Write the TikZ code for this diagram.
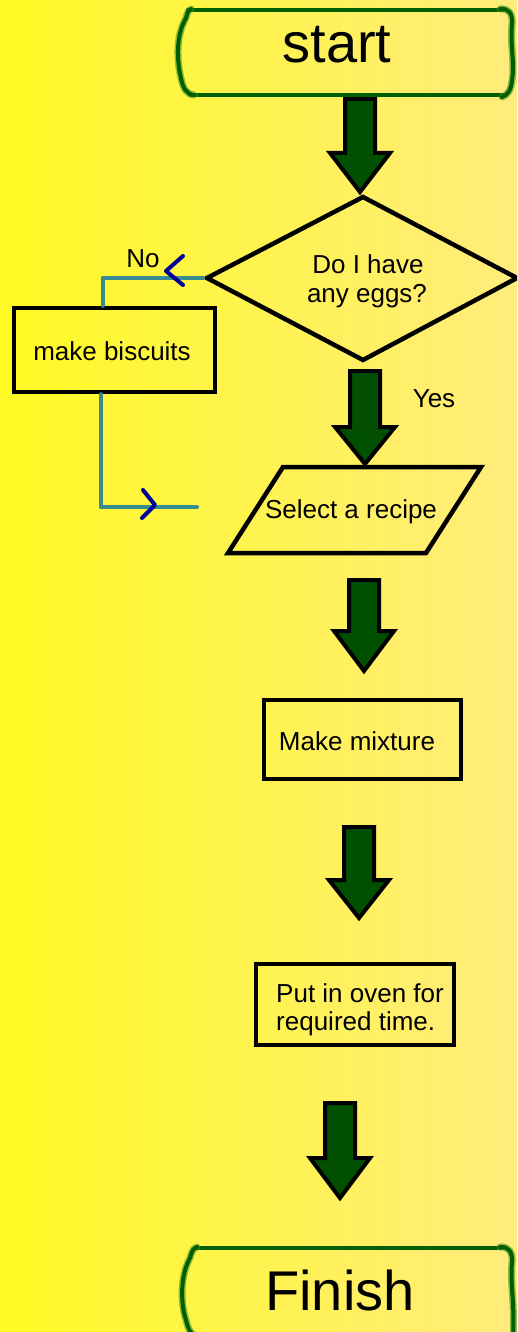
\documentclass[tikz,border=0pt]{standalone}
\usepackage{fontspec}
\setmainfont{Liberation Sans}
\definecolor{bgleft}{RGB}{255,250,35}
\definecolor{bgright}{RGB}{255,236,125}
\definecolor{arrowgreen}{RGB}{0,80,0}
\definecolor{framegreen}{RGB}{0,95,0}
\definecolor{halogreen}{RGB}{80,150,40}
\definecolor{linkteal}{RGB}{55,140,145}
\definecolor{chevblue}{RGB}{0,0,150}
% block arrow: centre x, shaft top, head base, tip
\newcommand\blockarrowat[4]{%
  \draw[blockarrow] (#1-15,#2) -- (#1+15,#2) -- (#1+15,#3) -- (#1+30,#3)
    -- (#1,#4) -- (#1-30,#3) -- (#1-15,#3) -- cycle;}
% hand-drawn green terminal side: halo underneath, dark stroke on top
\newcommand\greenside[1]{\draw[framehalo] #1; \draw[frameline] #1;}
\begin{document}
\begin{tikzpicture}[x=1pt,y=-1pt,
  txt/.style={font=\fontsize{26}{28}\selectfont, inner sep=0pt},
  bigtxt/.style={font=\fontsize{56}{60}\selectfont, inner sep=0pt},
  procbox/.style={draw=black, line width=4.5pt, rectangle, inner sep=0pt},
  outline/.style={draw=black, line width=4.5pt, line join=miter},
  blockarrow/.style={fill=arrowgreen, draw=black, line width=4pt, line join=miter},
  link/.style={draw=linkteal, line width=4pt, line cap=round, line join=round},
  chevron/.style={draw=chevblue, line width=4pt, line cap=round, line join=round},
  framehalo/.style={draw=halogreen, line width=7pt, opacity=0.6, line cap=round},
  frameline/.style={draw=framegreen, line width=4pt, line cap=round}]

\useasboundingbox (0,0) rectangle (517,1332);
\clip (0,0) rectangle (517,1332);
\shade[left color=bgleft, right color=bgright] (0,0) rectangle (517,1332);

% block arrows down the main flow
\blockarrowat{360}{99}{153}{192}
\blockarrowat{365}{371}{427}{464}
\blockarrowat{364}{580}{631}{671}
\blockarrowat{359}{827}{880}{918}
\blockarrowat{340}{1103}{1158}{1198}

% start terminal
\node[bigtxt, anchor=base] (start) at (337,63) {start};
\draw[frameline] (188,10) -- (503,10);
\draw[frameline] (190,95) -- (503,95);
\greenside{(191,9) .. controls (186,11) and (188,16) .. (184,22) .. controls (176,38) and (177,62) .. (181,78) .. controls (183,88) and (186,94) .. (194,95)}
\greenside{(500,9) .. controls (508,8) and (513,13) .. (512,24) .. controls (510,45) and (515,65) .. (512,80) .. controls (511,90) and (508,95) .. (502,97)}

% decision
\draw[outline] (207,278) coordinate (qW) -- (363,197) -- (517,278) -- (363,360) -- cycle;
\node[txt, anchor=base] (q) at (368,273) {Do I have};
\node[txt, anchor=base] (q2) at (367,302) {any eggs?};
\node[txt, anchor=base] (yes) at (434,407) {Yes};
\node[txt, anchor=base] (no) at (143,267) {No};

% side branch
\node[procbox, minimum width=201, minimum height=84] (mb) at (114.5,350) {};
\node[txt, anchor=base] (mbtext) at (112,360) {make biscuits};
\coordinate (noStart) at (203,278);
\coordinate (backIn) at (197,507);
\draw[link] (noStart) -| ([xshift=-12pt]mb.north);
\draw[link] ([xshift=-14pt]mb.south) |- (backIn);
\draw[chevron] (183,256) -- (166,271) -- (183,285);
\draw[chevron] (143,490) -- (155,505) -- (142,518);

% input: recipe
\draw[outline] (283,467) -- (481,467) -- (426,553) -- (228,553) -- cycle;
\node[txt, anchor=base] (recipe) at (351,518) {Select a recipe};

% process boxes
\node[procbox, minimum width=197, minimum height=79] (mix) at (362.5,739.5) {};
\node[txt, anchor=base] (mixtext) at (357,750) {Make mixture};
\node[procbox, minimum width=198, minimum height=81] (oven) at (355,1004.5) {};
\node[txt, anchor=base west] (oven1) at (276,1002) {Put in oven for};
\node[txt, anchor=base west] (oven2) at (276,1030) {required time.};

% finish terminal
\node[bigtxt, anchor=base] (finish) at (340,1310) {Finish};
\draw[frameline] (195,1248) -- (503,1248);
\draw[frameline] (195,1334) -- (503,1334);
\greenside{(197,1247) .. controls (190,1250) and (192,1256) .. (188,1262) .. controls (180,1280) and (181,1305) .. (186,1320) .. controls (188,1328) and (190,1334) .. (196,1336)}
\greenside{(500,1247) .. controls (508,1246) and (513,1252) .. (512,1262) .. controls (510,1285) and (515,1305) .. (513,1336)}
\end{tikzpicture}
\end{document}
